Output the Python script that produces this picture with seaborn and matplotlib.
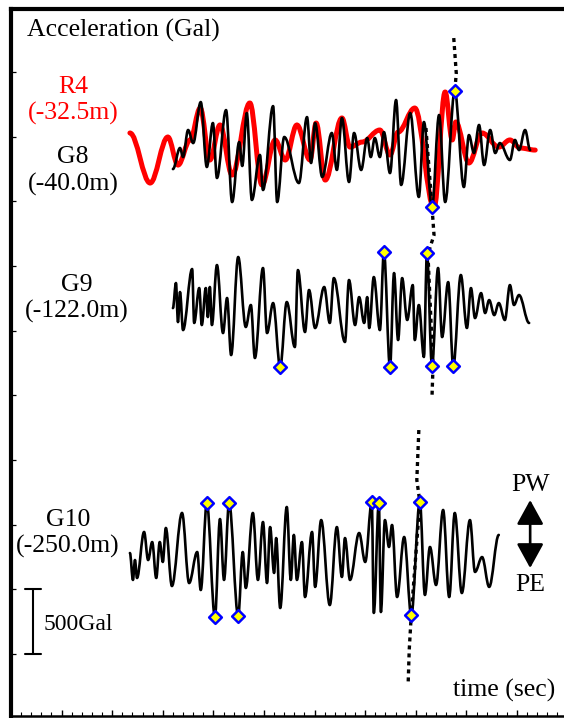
import numpy as np
import matplotlib
matplotlib.use("Agg")
import matplotlib.pyplot as plt
from matplotlib.path import Path
from matplotlib.patches import PathPatch
import seaborn as sns

# Turning points (peaks and troughs) of each acceleration record.
# time in seconds, acceleration in Gal relative to the record's own zero line.
R4_T = [2.35, 2.75, 3.10, 3.30, 3.54, 3.74, 3.93, 4.13, 4.37, 4.72,
        4.96, 5.22, 5.42, 5.65, 5.91, 6.03, 6.21, 6.54, 6.70, 6.94,
        7.29, 7.49, 7.65, 7.98, 8.36, 8.58, 8.72, 8.79, 9.05, 9.31,
        9.64, 9.86, 10.06, 10.36]
R4_A = [124, -263, 93, -124, 70, 317, -85, 186, -201, 356,
        -278, 70, -85, 186, -85, 201, -240, 240, 15, 54,
        147, -46, 131, 317, -456, 441, 70, 209, -108, 124,
        15, 70, 8, -8]

G8_T = [3.20, 3.34, 3.40, 3.50, 3.60, 3.75, 3.87, 3.99, 4.07, 4.25,
        4.37, 4.51, 4.57, 4.66, 4.76, 4.92, 4.98, 5.18, 5.26, 5.40,
        5.69, 5.85, 5.93, 6.01, 6.15, 6.34, 6.44, 6.54, 6.68, 6.78,
        6.92, 7.04, 7.11, 7.19, 7.29, 7.37, 7.49, 7.61, 7.71, 7.89,
        8.06, 8.16, 8.32, 8.46, 8.58, 8.77, 8.95, 9.05, 9.15, 9.25,
        9.35, 9.47, 9.57, 9.66, 9.86, 9.96, 10.04, 10.16, 10.26]
G8_A = [-155, 8, -62, 147, 46, 363, -139, 201, -224, 301,
        -410, 54, -131, 278, -394, -46, -317, 332, -410, 93,
        -263, 247, -108, 201, -216, 124, -162, 240, -255, 124,
        -162, 85, -62, 85, -62, 131, -186, 379, -278, 278,
        -371, 209, -448, 263, -410, 448, -294, 108, -31, 186,
        -124, 147, -31, 46, -85, 70, -8, 147, -8]

G9_T = [3.20, 3.26, 3.30, 3.34, 3.40, 3.58, 3.62, 3.72, 3.77, 3.85,
        3.89, 3.93, 3.97, 4.07, 4.19, 4.27, 4.35, 4.49, 4.64, 4.74,
        4.82, 4.98, 5.06, 5.18, 5.32, 5.45, 5.61, 5.67, 5.81, 5.89,
        6.01, 6.19, 6.30, 6.38, 6.60, 6.68, 6.80, 6.88, 6.98, 7.04,
        7.08, 7.17, 7.29, 7.37, 7.49, 7.57, 7.65, 7.73, 7.83, 7.94,
        7.98, 8.06, 8.16, 8.22, 8.32, 8.44, 8.52, 8.64, 8.74, 8.89,
        9.01, 9.09, 9.17, 9.29, 9.37, 9.45, 9.55, 9.64, 9.76, 9.86,
        9.94, 10.04, 10.24]
G9_A = [15, 209, -93, 139, -155, 317, -100, 170, -116, 170,
        -54, 178, -116, 348, -178, 93, -348, 410, -131, 39,
        -371, 325, -178, 54, -441, 62, -286, 309, -170, 155,
        -139, 178, -100, 247, -247, 232, -116, 100, -100, 100,
        -139, 255, -155, 448, -441, 286, -232, 247, -77, 193,
        -232, 39, -363, 441, -433, 325, -209, 216, -433, 271,
        -139, 170, -62, 131, -23, 77, -39, 54, -77, 193,
        39, 116, -100]

G10_T = [2.35, 2.41, 2.45, 2.49, 2.63, 2.71, 2.79, 2.87, 2.94, 3.00,
         3.06, 3.18, 3.38, 3.52, 3.68, 3.75, 3.87, 4.03, 4.13, 4.21,
         4.31, 4.49, 4.58, 4.64, 4.78, 4.88, 4.98, 5.06, 5.12, 5.20,
         5.24, 5.32, 5.45, 5.53, 5.59, 5.65, 5.75, 5.81, 5.95, 6.01,
         6.13, 6.30, 6.44, 6.54, 6.60, 6.70, 6.88, 7.00, 7.13, 7.17,
         7.27, 7.31, 7.39, 7.47, 7.53, 7.63, 7.77, 7.91, 8.08, 8.18,
         8.28, 8.40, 8.54, 8.66, 8.77, 8.91, 9.07, 9.17, 9.31, 9.45,
         9.64]
G10_A = [46, -162, -8, -147, 209, -8, 131, -147, 131, -23,
         240, -209, 356, -186, 54, -240, 433, -448, 309, -162,
         433, -441, 54, -224, 356, -162, 286, -186, 247, -108,
         162, -379, 402, -162, 186, -162, 131, -294, 209, -216,
         301, -356, 247, -139, 162, -162, 201, -23, 441, -417,
         433, -410, 301, 93, 263, -294, 170, -433, 441, -278,
         93, -201, 379, -294, 356, -263, 301, -100, 15, -216,
         186]

# times of the marked peak accelerations
G8_PEAKS = [8.32, 8.77]
G9_PEAKS = [5.32, 7.37, 7.49, 8.22, 8.32, 8.74]
G10_PEAKS = [3.87, 4.03, 4.31, 4.49, 7.13, 7.27, 7.91, 8.08]

# zero lines of the records on the common axis (Gal)
BASE_SHALLOW = 4405
BASE_G9 = 3160
BASE_G10 = 1235

# dotted propagation path (time s, axis value Gal); NaN breaks the line
PATH_T = [8.75, 8.80, 8.77, np.nan,
          8.20, 8.32, 8.36, 8.24, 8.34, 8.32, np.nan,
          8.06, 8.02, 8.08, 7.91, 7.87, 7.85]
PATH_V = [5263, 4990, 4853, np.nan,
          4567, 3956, 3740, 3593, 2727, 2487, np.nan,
          2232, 1846, 1676, 802, 531, 284]

SCALE_GAL = 500

sns.set_style("white")
plt.rcParams["font.family"] = ["Liberation Serif", "DejaVu Serif"]
plt.rcParams["text.color"] = "black"

fig = plt.figure(figsize=(5.64, 7.18), dpi=100)
ax = fig.add_axes([11 / 564, 2 / 718, 589 / 564, 707.3 / 718])


def draw_record(ax, t, a, base, color, lw, z):
    """Draw a record as a smooth curve through its turning points."""
    t = np.asarray(t, float)
    y = np.asarray(a, float) + base
    verts = [(t[0], y[0])]
    codes = [Path.MOVETO]
    k = 0.36
    for i in range(len(t) - 1):
        dt = t[i + 1] - t[i]
        verts += [(t[i] + k * dt, y[i]), (t[i + 1] - k * dt, y[i + 1]), (t[i + 1], y[i + 1])]
        codes += [Path.CURVE4] * 3
    patch = PathPatch(Path(verts, codes), facecolor="none", edgecolor=color,
                      lw=lw, capstyle="round", joinstyle="round", zorder=z)
    ax.add_patch(patch)


draw_record(ax, R4_T, R4_A, BASE_SHALLOW, "#ff0000", 3.6, 2)
draw_record(ax, G8_T, G8_A, BASE_SHALLOW, "black", 1.9, 3)
draw_record(ax, G9_T, G9_A, BASE_G9, "black", 1.9, 3)
draw_record(ax, G10_T, G10_A, BASE_G10, "black", 1.9, 3)

ax.plot(PATH_T, PATH_V, color="black", lw=2.4, linestyle=(0, (1.2, 1.2)), zorder=4)

# peak markers
mk_t, mk_v = [], []
for tt, aa, base, peaks in [(G8_T, G8_A, BASE_SHALLOW, G8_PEAKS),
                            (G9_T, G9_A, BASE_G9, G9_PEAKS),
                            (G10_T, G10_A, BASE_G10, G10_PEAKS)]:
    tt = np.asarray(tt)
    for p in peaks:
        i = int(np.argmin(np.abs(tt - p)))
        mk_t.append(tt[i])
        mk_v.append(aa[i] + base)
sns.scatterplot(x=mk_t, y=mk_v, ax=ax, marker="D", s=42, color="#ffff00",
                edgecolor="#0000ff", linewidth=1.8, zorder=6)

# labels
fs = 18.5
ax.text(0.32, 5325, "Acceleration (Gal)", fontsize=fs, ha="left", va="center")
ax.text(1.23, 4884, "R4", fontsize=fs, color="#ff0000", ha="center", va="center")
ax.text(1.23, 4683, "(-32.5m)", fontsize=fs, color="#ff0000", ha="center", va="center")
ax.text(1.23, 4343, "G8", fontsize=fs, ha="center", va="center")
ax.text(1.23, 4134, "(-40.0m)", fontsize=fs, ha="center", va="center")
ax.text(1.30, 3353, "G9", fontsize=fs, ha="center", va="center")
ax.text(1.30, 3152, "(-122.0m)", fontsize=fs, ha="center", va="center")
ax.text(1.13, 1536, "G10", fontsize=fs, ha="center", va="center")
ax.text(1.13, 1335, "(-250.0m)", fontsize=fs, ha="center", va="center")
ax.text(10.26, 1807, "PW", fontsize=fs, ha="center", va="center")
ax.text(10.26, 1034, "PE", fontsize=fs, ha="center", va="center")
ax.text(10.75, 222, "time (sec)", fontsize=fs, ha="right", va="center")
ax.text(0.65, 725, f"{SCALE_GAL}Gal", fontsize=17, ha="left", va="center")

# amplitude scale bar
sx = 0.435
ax.plot([sx, sx], [SCALE_GAL, 2 * SCALE_GAL], color="black", lw=1.5)
ax.plot([0.28, 0.60], [SCALE_GAL, SCALE_GAL], color="black", lw=1.5)
ax.plot([0.28, 0.60], [2 * SCALE_GAL, 2 * SCALE_GAL], color="black", lw=1.5)

# direction arrow
ax.annotate("", xy=(10.26, 1165), xytext=(10.26, 1691),
            arrowprops=dict(arrowstyle="<|-|>,head_length=1.0,head_width=0.55",
                            mutation_scale=15, lw=1.9, color="black",
                            shrinkA=0, shrinkB=0))

ax.set_xlim(0, 589 / 50.6)
ax.set_ylim(21, 5490)
ax.set_yticks(np.arange(500, 5001, 500))
ax.set_xticks(np.arange(0, 12, 1))
ax.set_xticks(np.arange(0, 11.7, 0.2), minor=True)
ax.tick_params(axis="both", which="both", direction="in",
               labelleft=False, labelbottom=False, colors="black")
ax.tick_params(axis="y", which="major", left=True, right=False, length=3.6, width=0.9)
ax.tick_params(axis="x", which="major", bottom=True, top=False, length=4.3, width=1.0)
ax.tick_params(axis="x", which="minor", bottom=True, top=False, length=2.9, width=0.8)
ax.set_xlabel("")
ax.set_ylabel("")
for side, w in [("left", 3.0), ("top", 3.0), ("bottom", 1.8)]:
    ax.spines[side].set_linewidth(w)
    ax.spines[side].set_color("black")
ax.spines["right"].set_visible(False)

fig.savefig("out.png", dpi=100)
